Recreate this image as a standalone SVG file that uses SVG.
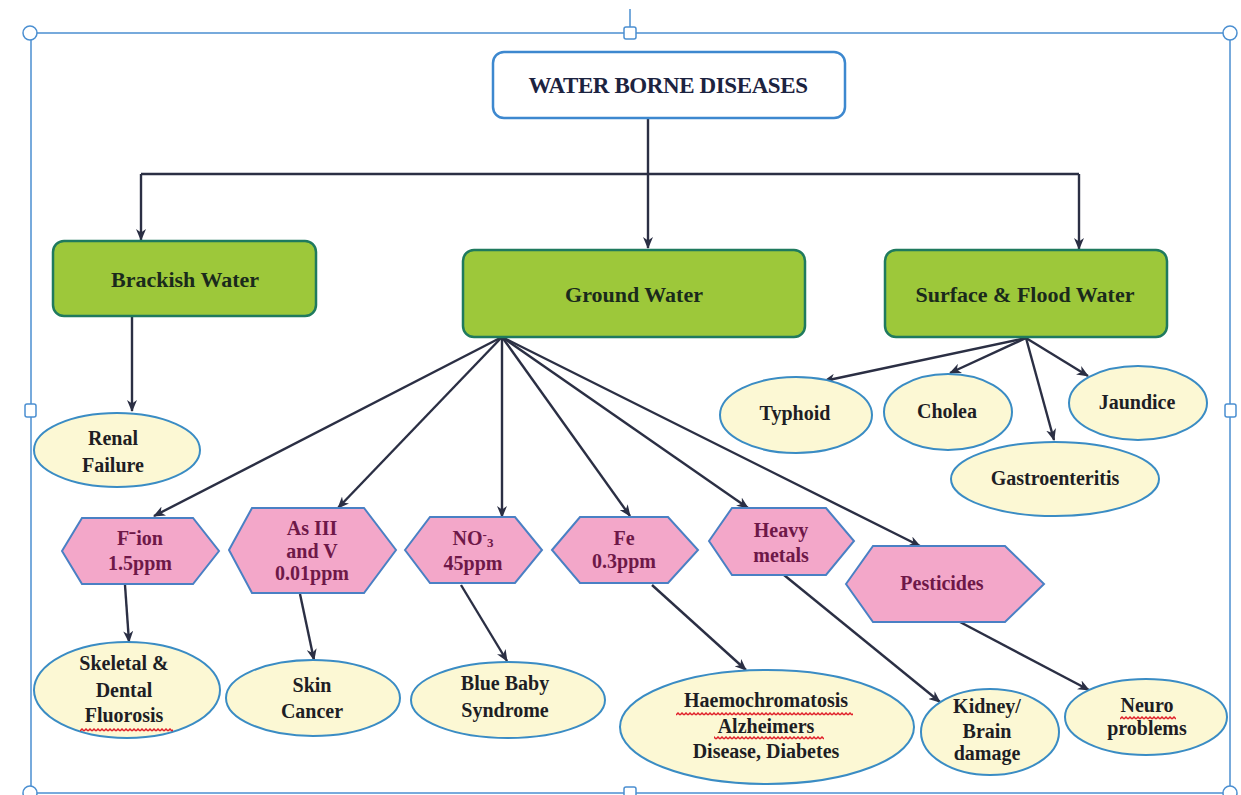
<svg xmlns="http://www.w3.org/2000/svg" width="1241" height="795" viewBox="0 0 1241 795">
<style>
.frame{fill:none;stroke:#4b8fd1;stroke-width:1.5}
.handle{fill:#ffffff;stroke:#4b8fd1;stroke-width:1.5}
.title{fill:#ffffff;stroke:#3d88cf;stroke-width:2.5}
.box{fill:#9dc83a;stroke:#1f7a5e;stroke-width:2.5}
.hex{fill:#f3a7c9;stroke:#4a80c4;stroke-width:2}
.ell{fill:#fcf8d4;stroke:#3a8cc4;stroke-width:2}
.t{font-family:"Liberation Serif","Times New Roman",serif;font-weight:bold;text-anchor:middle}
.tt{font-size:23px;fill:#1c2340;letter-spacing:-0.4px}
.tb{font-size:22px;fill:#1a2a1c}
.th{font-size:20px;fill:#6e1848}
.te{font-size:20px;fill:#1e1e24}
.c{fill:none;stroke:#2b2f44;stroke-width:2.4}
.sq{stroke:none}
</style>
<defs>
<marker id="ah" viewBox="0 0 12 10" markerWidth="12" markerHeight="10" refX="11" refY="5" orient="auto" markerUnits="userSpaceOnUse">
<path d="M0,0 L12,5 L0,10 L3.5,5 z" fill="#2b2f44"/>
</marker>
<pattern id="wave" width="4" height="4" patternUnits="userSpaceOnUse">
<path d="M0,3 L2,1 L4,3" fill="none" stroke="#e0202a" stroke-width="1.5"/>
</pattern>
</defs>

<g id="selection-frame">
<line x1="630" y1="9" x2="630" y2="28" class="frame"/>
<rect x="31" y="33" width="1199" height="760" class="frame"/>
<circle cx="30" cy="33" r="7" class="handle"/>
<circle cx="1230" cy="33" r="7" class="handle"/>
<circle cx="30" cy="793" r="7" class="handle"/>
<circle cx="1230" cy="793" r="7" class="handle"/>
<rect x="624" y="27" width="12" height="12" rx="2" class="handle"/>
<rect x="25" y="404" width="11" height="13" rx="2" class="handle"/>
<rect x="1225" y="404" width="11" height="13" rx="2" class="handle"/>
<rect x="624" y="787" width="12" height="12" rx="2" class="handle"/>
</g>

<g id="connectors">
<path class="c" d="M648,118 L648,248" marker-end="url(#ah)"/>
<path class="c" d="M141,174 L1079,174"/>
<path class="c" d="M141,174 L141,240" marker-end="url(#ah)"/>
<path class="c" d="M1079,174 L1079,249" marker-end="url(#ah)"/>
<path class="c" d="M132,316 L132,411" marker-end="url(#ah)"/>
<path class="c" d="M502,337 L154,516" marker-end="url(#ah)"/>
<path class="c" d="M502,337 L338,508" marker-end="url(#ah)"/>
<path class="c" d="M502,337 L502,517" marker-end="url(#ah)"/>
<path class="c" d="M502,337 L630,516" marker-end="url(#ah)"/>
<path class="c" d="M502,337 L748,508" marker-end="url(#ah)"/>
<path class="c" d="M502,337 L920,546" marker-end="url(#ah)"/>
<path class="c" d="M1026,338 L824,381" marker-end="url(#ah)"/>
<path class="c" d="M1026,338 L950,373" marker-end="url(#ah)"/>
<path class="c" d="M1026,338 L1054,440" marker-end="url(#ah)"/>
<path class="c" d="M1026,338 L1088,376" marker-end="url(#ah)"/>
<path class="c" d="M125,585 L129,642" marker-end="url(#ah)"/>
<path class="c" d="M300,594 L314,660" marker-end="url(#ah)"/>
<path class="c" d="M461,585 L507,661" marker-end="url(#ah)"/>
<path class="c" d="M652,585 L746,670" marker-end="url(#ah)"/>
<path class="c" d="M784,575 L940,702" marker-end="url(#ah)"/>
<path class="c" d="M960,622 L1089,690" marker-end="url(#ah)"/>
</g>

<g id="water-borne-diseases">
<rect x="493" y="52" width="352" height="66" rx="11" class="title"/>
<text x="668" y="93" class="t tt">WATER BORNE DISEASES</text>
</g>

<g id="brackish-water">
<rect x="53" y="241" width="263" height="75" rx="11" class="box"/>
<text x="185" y="287" class="t tb">Brackish Water</text>
</g>
<g id="ground-water">
<rect x="463" y="250" width="342" height="87" rx="11" class="box"/>
<text x="634" y="302" class="t tb">Ground Water</text>
</g>
<g id="surface-flood-water">
<rect x="885" y="250" width="282" height="87" rx="11" class="box"/>
<text x="1025" y="302" class="t tb">Surface &amp; Flood Water</text>
</g>

<g id="renal-failure">
<ellipse cx="117" cy="450" rx="83" ry="37" class="ell"/>
<text class="t te"><tspan x="113" y="445">Renal</tspan><tspan x="113" y="472">Failure</tspan></text>
</g>

<g id="f-ion">
<polygon points="62,551 82,518 193,518 219,551 193,584 82,584" class="hex"/>
<text class="t th"><tspan x="140" y="545">F⁻ion</tspan><tspan x="140" y="570">1.5ppm</tspan></text>
</g>
<g id="as-iii-v">
<polygon points="229,550 252,508 364,508 396,550 364,593 252,593" class="hex"/>
<text class="t th"><tspan x="312" y="535">As  III</tspan><tspan x="312" y="558">and V</tspan><tspan x="312" y="580">0.01ppm</tspan></text>
</g>
<g id="no3">
<polygon points="405,550 430,517 515,517 542,550 515,583 430,583" class="hex"/>
<text class="t th"><tspan x="473" y="545">NO<tspan font-size="13" baseline-shift="6">-</tspan><tspan font-size="13" baseline-shift="-2">3</tspan></tspan><tspan x="473" y="570">45ppm</tspan></text>
</g>
<g id="fe">
<polygon points="552,550 580,517 668,517 698,550 668,583 580,583" class="hex"/>
<text class="t th"><tspan x="624" y="545">Fe</tspan><tspan x="624" y="568">0.3ppm</tspan></text>
</g>
<g id="heavy-metals">
<polygon points="709,541 732,508 826,508 854,541 826,575 732,575" class="hex"/>
<text class="t th"><tspan x="781" y="537">Heavy</tspan><tspan x="781" y="562">metals</tspan></text>
</g>
<g id="pesticides">
<polygon points="846,584 873,546 1005,546 1044,584 1005,622 873,622" class="hex"/>
<text x="942" y="590" class="t th">Pesticides</text>
</g>

<g id="typhoid">
<ellipse cx="796" cy="415" rx="76" ry="38" class="ell"/>
<text x="795" y="420" class="t te">Typhoid</text>
</g>
<g id="cholea">
<ellipse cx="948" cy="412" rx="64" ry="38" class="ell"/>
<text x="947" y="418" class="t te">Cholea</text>
</g>
<g id="jaundice">
<ellipse cx="1138" cy="403" rx="69" ry="37" class="ell"/>
<text x="1137" y="409" class="t te">Jaundice</text>
</g>
<g id="gastroenteritis">
<ellipse cx="1055" cy="479" rx="104" ry="37" class="ell"/>
<text x="1055" y="485" class="t te">Gastroenteritis</text>
</g>

<g id="skeletal-dental-fluorosis">
<ellipse cx="127" cy="690" rx="93" ry="48" class="ell"/>
<text class="t te"><tspan x="124" y="670">Skeletal &amp;</tspan><tspan x="124" y="697">Dental</tspan><tspan x="124" y="722">Fluorosis</tspan></text>
<rect x="80" y="728" width="93" height="4" fill="url(#wave)" class="sq"/>
</g>
<g id="skin-cancer">
<ellipse cx="313" cy="698" rx="87" ry="38" class="ell"/>
<text class="t te"><tspan x="312" y="692">Skin</tspan><tspan x="312" y="718">Cancer</tspan></text>
</g>
<g id="blue-baby-syndrome">
<ellipse cx="508" cy="700" rx="97" ry="38" class="ell"/>
<text class="t te"><tspan x="505" y="690">Blue Baby</tspan><tspan x="505" y="717">Syndrome</tspan></text>
</g>
<g id="haemochromatosis">
<ellipse cx="767" cy="727" rx="147" ry="57" class="ell"/>
<text class="t te"><tspan x="766" y="707">Haemochromatosis</tspan><tspan x="766" y="733">Alzheimers</tspan><tspan x="766" y="758">Disease, Diabetes</tspan></text>
<rect x="676" y="712" width="177" height="4" fill="url(#wave)" class="sq"/>
<rect x="714" y="736" width="110" height="4" fill="url(#wave)" class="sq"/>
</g>
<g id="kidney-brain-damage">
<ellipse cx="990" cy="732" rx="69" ry="43" class="ell"/>
<text class="t te"><tspan x="987" y="713">Kidney/</tspan><tspan x="987" y="738">Brain</tspan><tspan x="987" y="760">damage</tspan></text>
</g>
<g id="neuro-problems">
<ellipse cx="1146" cy="717" rx="81" ry="38" class="ell"/>
<text class="t te"><tspan x="1147" y="712">Neuro</tspan><tspan x="1147" y="735">problems</tspan></text>
<rect x="1120" y="716" width="56" height="4" fill="url(#wave)" class="sq"/>
</g>
</svg>
